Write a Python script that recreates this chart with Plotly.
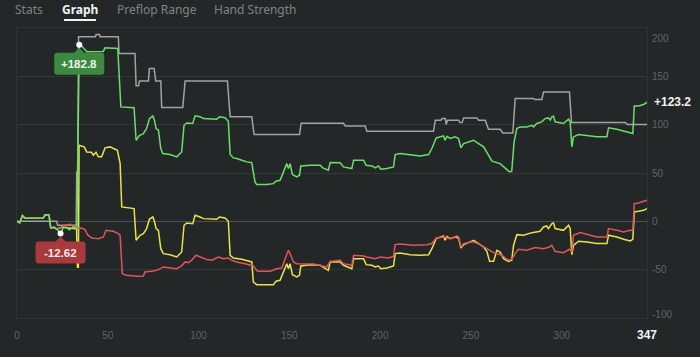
import plotly.graph_objects as go

# ---------------- data (hand number, cumulative value) ----------------
green_x = [0, 1.5, 3.0, 4.4, 7.7, 14.5, 15.5, 17.6, 18.6, 20.5, 21.9, 23.2, 24.0, 25.3, 27.0, 29.0, 31.0, 33.0,
           34.3, 36.0, 38.5, 47.5, 48.5, 55.5, 57.2, 64.5, 65.6, 67.5, 69.5, 71.4, 72.9, 74.8, 75.7, 76.6, 77.9,
           79.2, 80.3, 84.3, 88.0, 90.7, 92.0, 93.5, 96.8, 98.1, 100.8, 102.7, 110.0, 111.5, 114.6, 116.4, 117.4,
           119.2, 121.0, 123.8, 126.5, 129.3, 131.1, 132.0, 137.5, 141.2, 142.7, 144.9, 146.7, 148.6, 149.5, 150.4,
           151.7, 154.1, 155.6, 156.3, 161.4, 167.0, 168.4, 171.5, 172.5, 178.0, 179.8, 184.4, 185.4, 190.9, 192.3,
           195.5, 197.3, 199.1, 200.4, 203.7, 207.4, 208.3, 211.0, 216.6, 222.1, 226.7, 228.5, 230.9, 234.9, 235.8,
           236.8, 238.6, 241.4, 243.2, 244.5, 246.0, 249.6, 251.5, 254.2, 257.0, 259.7, 261.6, 266.1, 268.9, 271.3,
           272.5, 273.8, 275.3, 277.1, 280.8, 283.6, 284.5, 286.3, 289.0, 290.9, 292.7, 293.7, 294.6, 295.5, 296.4,
           301.0, 303.8, 304.7, 305.6, 306.5, 309.3, 313.9, 319.4, 324.9, 325.8, 330.4, 334.1, 337.7, 339.2, 340.0,
           342.3, 345.1, 347]
green_y = [0, -1.5, 5.9, 3.1, 3.3, 3.5, 6.8, 6.6, -6.8, -6.2, -8.0, -10.5, -12.62, -7.0, -6.3, -8.8, -5.5, -7.5,
           182.8, 180.5, 175.5, 175.8, 179.5, 178.8, 118.4, 117.5, 83.9, 89.0, 90.5, 96.0, 106.3, 109.1, 104.6, 96.0,
           94.3, 75.3, 70.1, 69.1, 66.7, 71.8, 99.4, 101.8, 101.2, 109.1, 108.2, 106.3, 105.6, 108.1, 107.2, 103.6,
           69.1, 65.6, 65.0, 63.2, 61.5, 60.8, 40.8, 38.0, 38.0, 39.0, 41.5, 42.5, 51.1, 59.7, 54.6, 59.7, 48.4,
           46.0, 47.7, 57.3, 58.0, 58.0, 55.3, 52.9, 60.8, 60.5, 56.3, 54.6, 63.2, 63.2, 58.0, 57.3, 55.2, 57.3,
           53.9, 54.6, 56.3, 69.1, 70.1, 69.1, 67.7, 69.1, 75.3, 86.3, 88.4, 83.9, 88.0, 85.7, 87.4, 85.7, 76.0,
           80.5, 82.9, 83.9, 80.5, 77.0, 68.4, 62.2, 59.7, 55.3, 51.1, 51.8, 82.2, 96.0, 97.7, 97.7, 99.4, 97.7,
           101.2, 102.9, 106.3, 107.0, 104.6, 108.0, 108.7, 102.9, 101.2, 105.6, 102.9, 77.0, 87.3, 89.8, 88.4,
           87.4, 87.4, 96.7, 95.3, 93.2, 91.8, 90.8, 119.4, 119.4, 120.8, 123.2]

gray_x = [0, 21.9, 22.4, 32.6, 32.9, 33.4, 33.9, 43.2, 43.6, 45.4, 45.8, 55.8, 56.2, 65.0, 65.6, 67.0, 67.4, 72.4,
          72.9, 75.5, 76.4, 79.2, 79.7, 91.3, 92.6, 115.9, 117.4, 129.3, 130.6, 155.6, 156.5, 179.8, 180.8, 191.8,
          192.7, 229.4, 230.4, 233.5, 234.2, 235.9, 236.4, 237.1, 243.2, 244.0, 245.2, 246.0, 253.3, 254.2, 257.9,
          259.7, 266.1, 267.6, 273.1, 274.4, 284.5, 285.4, 289.1, 290.0, 304.3, 305.4, 335.0, 336.4, 347]
gray_y = [0, 0, -4.1, -4.1, 51.0, 51.0, 190.9, 190.9, 193.3, 193.3, 190.9, 190.9, 173.6, 173.6, 140.2, 140.2,
          145.3, 145.3, 158.1, 158.1, 145.3, 145.3, 117.7, 117.7, 145.3, 145.3, 108.1, 108.1, 89.8, 89.8, 101.5,
          101.5, 98.7, 98.7, 93.2, 93.2, 104.6, 104.6, 106.3, 106.3, 100.1, 104.6, 104.6, 102.2, 102.2, 107.0,
          107.0, 104.6, 104.6, 95.3, 95.3, 91.5, 91.5, 127.0, 127.0, 126.0, 126.0, 133.9, 133.9, 102.2, 102.2,
          100.1, 100.1]

yellow_x = [0, 1.5, 3.0, 4.4, 7.7, 14.5, 15.5, 17.6, 18.6, 20.5, 21.9, 25.0, 29.0, 32.8, 33.3, 33.8, 34.2, 37.0,
            38.4, 41.0, 42.1, 43.5, 44.8, 46.6, 48.5, 51.2, 55.3, 56.8, 57.7, 64.5, 65.6, 67.8, 69.6, 71.4, 72.9,
            74.8, 75.7, 76.6, 77.9, 79.2, 80.6, 84.3, 88.0, 90.7, 92.0, 93.5, 96.8, 98.1, 100.8, 102.7, 110.0,
            111.5, 114.6, 116.4, 117.4, 119.2, 123.8, 126.5, 129.3, 130.2, 132.0, 141.2, 142.7, 144.9, 146.7,
            148.6, 149.5, 150.4, 151.7, 154.1, 155.6, 156.3, 161.4, 167.0, 168.4, 171.5, 172.5, 178.0, 179.8,
            184.4, 185.4, 190.9, 192.3, 195.5, 197.3, 199.1, 200.4, 203.7, 207.4, 208.3, 211.0, 216.6, 222.1,
            226.7, 228.5, 230.9, 234.9, 235.8, 236.8, 238.6, 241.4, 243.2, 244.5, 246.0, 249.6, 251.5, 254.2,
            257.0, 258.8, 260.3, 262.5, 264.3, 266.1, 268.0, 270.7, 272.5, 273.5, 275.3, 279.0, 283.6, 288.1,
            290.0, 291.8, 292.7, 294.6, 295.5, 296.4, 301.0, 303.8, 304.7, 305.6, 306.5, 309.3, 313.9, 319.4,
            324.9, 325.8, 330.4, 334.1, 337.7, 339.2, 340.0, 342.3, 345.1, 347]
yellow_y = [0, -1.5, 5.9, 3.1, 3.3, 3.5, 6.8, 6.6, -6.8, -6.2, -8.0, -6.0, -7.0, -8.0, -47.5, -47.5, 78.7, 77.0,
            71.8, 71.5, 68.4, 71.5, 66.7, 66.7, 76.0, 77.0, 73.5, 60.0, 14.9, 13.2, -19.6, -14.4, -12.7, -7.5,
            2.1, 4.5, 0.0, -7.5, -9.3, -28.3, -33.4, -34.5, -36.9, -31.7, -4.1, -1.7, -2.4, 6.3, 4.5, 2.8, 2.1,
            4.5, 3.5, 0.0, -35.1, -37.9, -39.3, -40.3, -42.0, -62.8, -65.5, -65.5, -62.0, -61.0, -52.4, -43.8,
            -49.0, -43.8, -55.2, -57.6, -55.9, -46.2, -44.8, -45.5, -47.2, -50.7, -42.0, -42.0, -45.5, -49.0,
            -38.6, -38.6, -44.8, -45.5, -47.2, -46.2, -49.0, -48.3, -46.2, -33.4, -32.7, -34.5, -35.1, -34.5,
            -28.3, -17.9, -15.1, -19.6, -15.8, -17.9, -16.2, -17.2, -27.6, -24.1, -21.3, -19.6, -23.0, -26.5,
            -31.0, -41.4, -41.4, -30.0, -31.7, -38.6, -41.4, -40.3, -24.8, -13.8, -14.4, -11.7, -10.3, -5.8,
            -4.8, -7.5, -2.4, -1.7, -7.5, -9.3, -4.1, -7.5, -34.5, -24.8, -20.6, -21.3, -23.0, -23.0, -14.4,
            -16.2, -18.6, -20.3, -18.6, 9.7, 10.4, 11.4, 13.2]

red_x = [0, 1.5, 3.0, 4.4, 7.7, 14.5, 15.5, 17.6, 18.6, 20.5, 21.9, 23.5, 26.4, 29.2, 31.0, 32.9, 35.5, 37.5,
         38.8, 41.1, 44.8, 47.6, 49.0, 53.1, 55.8, 56.8, 58.0, 60.4, 66.0, 69.6, 70.5, 75.1, 77.9, 80.6, 84.3,
         88.0, 90.7, 92.6, 94.4, 96.2, 98.6, 100.8, 104.5, 107.3, 110.9, 113.7, 116.4, 118.3, 121.0, 125.6,
         130.2, 132.4, 139.4, 143.1, 145.8, 147.7, 149.5, 150.8, 152.3, 154.1, 163.3, 170.6, 172.5, 178.0,
         179.8, 184.4, 185.4, 190.9, 192.7, 197.3, 200.0, 204.6, 207.4, 208.3, 211.0, 218.4, 225.8, 228.5,
         230.9, 234.9, 238.6, 242.3, 243.2, 244.5, 246.0, 249.6, 251.5, 255.1, 258.8, 262.5, 264.3, 267.0,
         270.7, 272.5, 274.4, 276.2, 280.8, 285.4, 290.0, 293.3, 294.6, 296.4, 301.0, 304.3, 305.6, 306.5,
         310.2, 313.9, 319.4, 324.9, 325.8, 330.4, 334.1, 337.7, 339.2, 340.0, 342.3, 345.1, 347]
red_y = [0, -1.5, 5.9, 3.1, 3.3, 3.5, 6.8, 6.6, -6.8, -6.2, -8.0, -6.5, -4.1, -3.1, -4.1, -7.5, -7.0, -8.6,
         -13.8, -17.2, -17.9, -16.2, -9.3, -10.3, -12.7, -14.5, -54.1, -55.9, -56.9, -56.5, -52.4, -51.4, -50.0,
         -47.2, -48.0, -49.0, -46.2, -42.0, -42.8, -40.3, -35.1, -36.9, -39.6, -40.3, -36.9, -38.6, -37.9,
         -40.3, -42.0, -43.8, -46.2, -51.7, -51.7, -49.0, -48.3, -38.6, -30.0, -35.1, -42.0, -43.8, -44.1,
         -47.2, -41.4, -40.3, -43.8, -45.5, -35.1, -35.8, -36.9, -38.6, -36.9, -37.9, -36.2, -24.1, -23.4,
         -24.8, -24.1, -23.0, -17.2, -16.2, -17.9, -15.1, -16.2, -26.5, -23.0, -21.3, -21.3, -24.1, -28.3,
         -32.4, -33.4, -35.1, -40.3, -39.3, -33.4, -28.9, -29.9, -27.2, -28.3, -26.5, -24.8, -31.0, -32.4,
         -28.9, -31.7, -14.4, -11.7, -13.8, -16.2, -16.2, -7.5, -9.3, -11.0, -9.3, -9.3, 18.3, 18.9, 20.7, 21.8]

x_ticks = [0, 50, 100, 150, 200, 250, 300]
hands_total = 347
y_ticks = [-100, -50, 0, 50, 100, 150, 200]
tabs = ["Stats", "Graph", "Preflop Range", "Hand Strength"]
active_tab = "Graph"

# ---------------- styling ----------------
BG = "#232727"
GRID = "#303535"
FRAME = "#2d3232"
C_GRAY = "#a3a3a3"
C_GREEN = "#6adf6a"
C_YELLOW = "#e9e24c"
C_RED = "#e0545a"
BOX_GREEN = "#3c8a40"
BOX_RED = "#a8393d"
TICK_COL = "#5f6566"
FONT = "Liberation Sans, Arial, sans-serif"
PLOT_LEFT = 17  # px, left edge of plot area

fig = go.Figure()
for xs, ys, col in [(gray_x, gray_y, C_GRAY), (yellow_x, yellow_y, C_YELLOW),
                    (red_x, red_y, C_RED), (green_x, green_y, C_GREEN)]:
    fig.add_trace(go.Scatter(x=xs, y=ys, mode="lines", line=dict(color=col, width=1.5),
                             hoverinfo="skip", showlegend=False))

# max / min of green
imax = max(range(len(green_y)), key=lambda i: green_y[i])
imin = min(range(len(green_y)), key=lambda i: green_y[i])
mx, my = green_x[imax], green_y[imax]
nx, ny = green_x[imin], green_y[imin]

fig.add_trace(go.Scatter(x=[mx, nx], y=[my, ny], mode="markers",
                         marker=dict(color="white", size=6, line=dict(width=0)),
                         hoverinfo="skip", showlegend=False))

# callout boxes (pixel-sized paths anchored at the points)
def callout(ax, ay, color):
    path = ("M 0,-3 L 5,-8 L 22,-8 Q 25,-8 25,-11 L 25,-27 Q 25,-30 22,-30 "
            "L -22,-30 Q -25,-30 -25,-27 L -25,-11 Q -25,-8 -22,-8 L -5,-8 Z")
    fig.add_shape(type="path", path=path, xsizemode="pixel", ysizemode="pixel",
                  xanchor=ax, yanchor=ay, xref="x", yref="y",
                  fillcolor=color, line=dict(width=0), layer="above")

callout(mx, my, BOX_GREEN)
callout(nx, ny, BOX_RED)
fig.add_annotation(x=mx, y=my, xref="x", yref="y", text=f"<b>+{my:.1f}</b>", showarrow=False,
                   xanchor="center", yanchor="middle", yshift=-19,
                   font=dict(family=FONT, size=11.5, color="#eef5ee"))
fig.add_annotation(x=nx, y=ny, xref="x", yref="y", text=f"<b>{ny:.2f}</b>", showarrow=False,
                   xanchor="center", yanchor="middle", yshift=-19,
                   font=dict(family=FONT, size=11.5, color="#f5eaea"))

# final value label
fig.add_annotation(x=1, xref="paper", y=green_y[-1], yref="y", text=f"<b>+{green_y[-1]:.1f}</b>",
                   showarrow=False, xanchor="left", yanchor="middle", xshift=5,
                   font=dict(family=FONT, size=12, color="#f2f2f2"))

# y tick labels
for v in y_ticks:
    shift = -10.5 if v == max(y_ticks) else (4 if v == min(y_ticks) else 0)
    fig.add_annotation(x=1, xref="paper", y=v, yref="y", text=str(v), showarrow=False,
                       xanchor="left", yanchor="middle", xshift=3, yshift=shift,
                       font=dict(family=FONT, size=10, color=TICK_COL))

# tabs header
tab_centers = [29, 80, 157, 255]
for t, cx in zip(tabs, tab_centers):
    active = t == active_tab
    fig.add_annotation(x=0, xref="paper", y=1, yref="paper", xshift=cx - PLOT_LEFT, yshift=19,
                       xanchor="center", yanchor="middle",
                       text=(f"<b>{t}</b>" if active else t), showarrow=False,
                       font=dict(family="Noto Sans, Open Sans, sans-serif", size=12,
                                 color="#f2f2f2" if active else "#7f8385"))
fig.add_shape(type="line", xref="paper", yref="paper", xsizemode="pixel", ysizemode="pixel",
              xanchor=0, yanchor=1, x0=64 - PLOT_LEFT, x1=96 - PLOT_LEFT, y0=8, y1=8,
              line=dict(color="#f2f2f2", width=2))

fig.update_xaxes(range=[0, hands_total], showgrid=False, zeroline=False,
                 showline=True, mirror=True, linecolor=FRAME, linewidth=1,
                 tickmode="array", tickvals=x_ticks + [hands_total],
                 ticktext=[str(v) for v in x_ticks] +
                 [f"<span style='color:#f4f4f4;font-size:12px'><b>{hands_total}</b></span>"],
                 ticks="", ticklabelstandoff=8,
                 tickfont=dict(family=FONT, size=10, color=TICK_COL))
fig.update_yaxes(range=[min(y_ticks), max(y_ticks)], tickmode="array", tickvals=y_ticks,
                 showticklabels=False, showgrid=True, gridcolor=GRID, gridwidth=1,
                 zeroline=True, zerolinecolor="#4b5050", zerolinewidth=1.5,
                 showline=True, mirror=True, linecolor=FRAME, linewidth=1, side="right")

fig.update_layout(width=700, height=357, margin=dict(l=PLOT_LEFT, r=53, t=28, b=39),
                  paper_bgcolor=BG, plot_bgcolor=BG, showlegend=False)

fig.write_html("out.html", config={"displayModeBar": False, "staticPlot": True},
               post_script="document.body.style.margin='0';document.body.style.background='%s';" % BG)
